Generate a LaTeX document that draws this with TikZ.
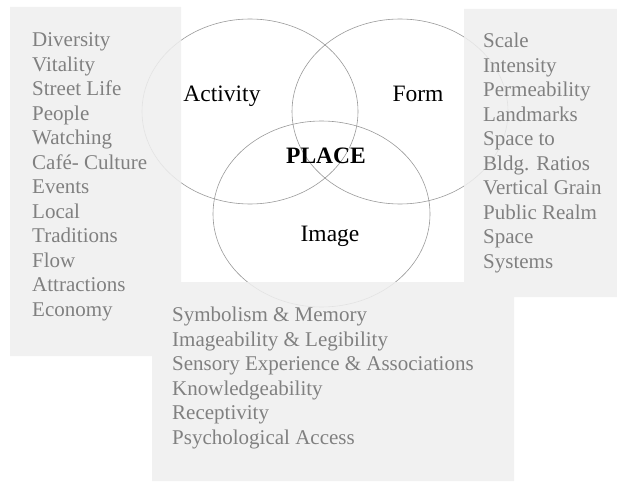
\documentclass[tikz,border=0pt]{standalone}
\usepackage{fontspec}
\setmainfont{Liberation Serif}
\definecolor{panelgray}{RGB}{239,239,239}
\definecolor{itemgray}{RGB}{128,128,128}
\tikzset{
  ring/.style={draw=black!40,line width=0.6pt},
  theme/.style={anchor=base,inner sep=0pt,font=\fontsize{23.5}{28}\selectfont},
  itemlist/.style={anchor=base west,inner sep=0pt,align=left,text=itemgray,
    font=\fontsize{21}{24.5}\selectfont}
}

\begin{document}
\begin{tikzpicture}[x=1pt,y=-1pt]
\useasboundingbox (0,0) rectangle (617,481);
\coordinate (A) at (250,111.5);
\coordinate (F) at (400,111.5);
\coordinate (I) at (321.5,214);
\draw[ring] (A) ellipse [x radius=108,y radius=92.5];
\draw[ring] (F) ellipse [x radius=108,y radius=92.5];
\draw[ring] (I) ellipse [x radius=108.5,y radius=93];
% grey panels, one path so the overlaps stay even
\fill[panelgray,fill opacity=0.85] (10,7) rectangle (181,356)
  (464,9) rectangle (617,297) (152,282) rectangle (514,481);
\node[theme] (act) at (222,102) {Activity};
\node[theme] (frm) at (418,102) {Form};
\node[theme,font=\fontsize{23.5}{28}\selectfont\bfseries] (plc) at (326,163) {PLACE};
\node[theme] (img) at (330,241) {Image};
% lists sit on the baseline of their last line
\node[itemlist] (actlist) at (32,316) {Diversity\\Vitality\\Street Life\\People\\Watching\\Café- Culture\\Events\\Local\\Traditions\\Flow\\Attractions\\Economy};
\node[itemlist] (frmlist) at (483,268) {Scale\\Intensity\\Permeability\\Landmarks\\Space to\\Bldg. Ratios\\Vertical Grain\\Public Realm\\Space\\Systems};
\node[itemlist] (imglist) at (172,444) {Symbolism \& Memory\\Imageability \& Legibility\\Sensory Experience \& Associations\\Knowledgeability\\Receptivity\\Psychological Access};
\end{tikzpicture}
\end{document}
